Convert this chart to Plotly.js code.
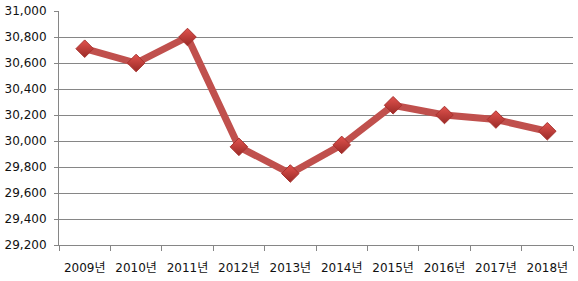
<!DOCTYPE html>
<html><head><meta charset="utf-8">
<script src="https://cdn.plot.ly/plotly-3.0.1.min.js"></script>
<style>html,body{margin:0;padding:0;background:#fff;}#chart{width:578px;height:281px;}</style>
</head><body><div id="chart"></div>
<script>
const categories = ["2009년","2010년","2011년","2012년","2013년","2014년","2015년","2016년","2017년","2018년"];
const values = [30710, 30600, 30800, 29955, 29750, 29970, 30275, 30200, 30165, 30075];
const yTicks = [29200,29400,29600,29800,30000,30200,30400,30600,30800,31000];
const yTickLabels = yTicks.map(v => v.toLocaleString('en-US'));

const trace = {
  x: categories, y: values, type: 'scatter', mode: 'lines+markers',
  line: {color: '#C0504D', width: 7},
  marker: {symbol: 'diamond', size: 13.5, color: '#E2534E',
    gradient: {type: 'vertical', color: '#9A2A27'},
    line: {color: '#A8322F', width: 1}},
  hoverinfo: 'none'
};
const font = {family: '"DejaVu Sans", "Noto Sans CJK KR", sans-serif', size: 12, color: '#111'};
const layout = {
  width: 578, height: 281,
  margin: {l: 59, r: 5, t: 11, b: 36},
  paper_bgcolor: '#fff', plot_bgcolor: '#fff',
  showlegend: false,
  font: font,
  xaxis: {type: 'category', showgrid: false, showline: true, linecolor: '#868686', linewidth: 1,
    ticks: 'outside', ticklen: 5, tickcolor: '#868686', tickson: 'boundaries',
    ticklabelstandoff: 12,
    tickfont: font, range: [-0.5, 9.5], fixedrange: true},
  yaxis: {range: [29200, 31000], tickvals: yTicks, ticktext: yTickLabels,
    showgrid: true, gridcolor: '#868686', gridwidth: 1, zeroline: false,
    showline: true, linecolor: '#868686', linewidth: 1,
    ticks: 'outside', ticklen: 4, tickcolor: '#868686', ticklabelstandoff: 5,
    tickfont: font, fixedrange: true}
};
Plotly.newPlot('chart', [trace], layout, {displayModeBar: false, staticPlot: true});
</script></body></html>
